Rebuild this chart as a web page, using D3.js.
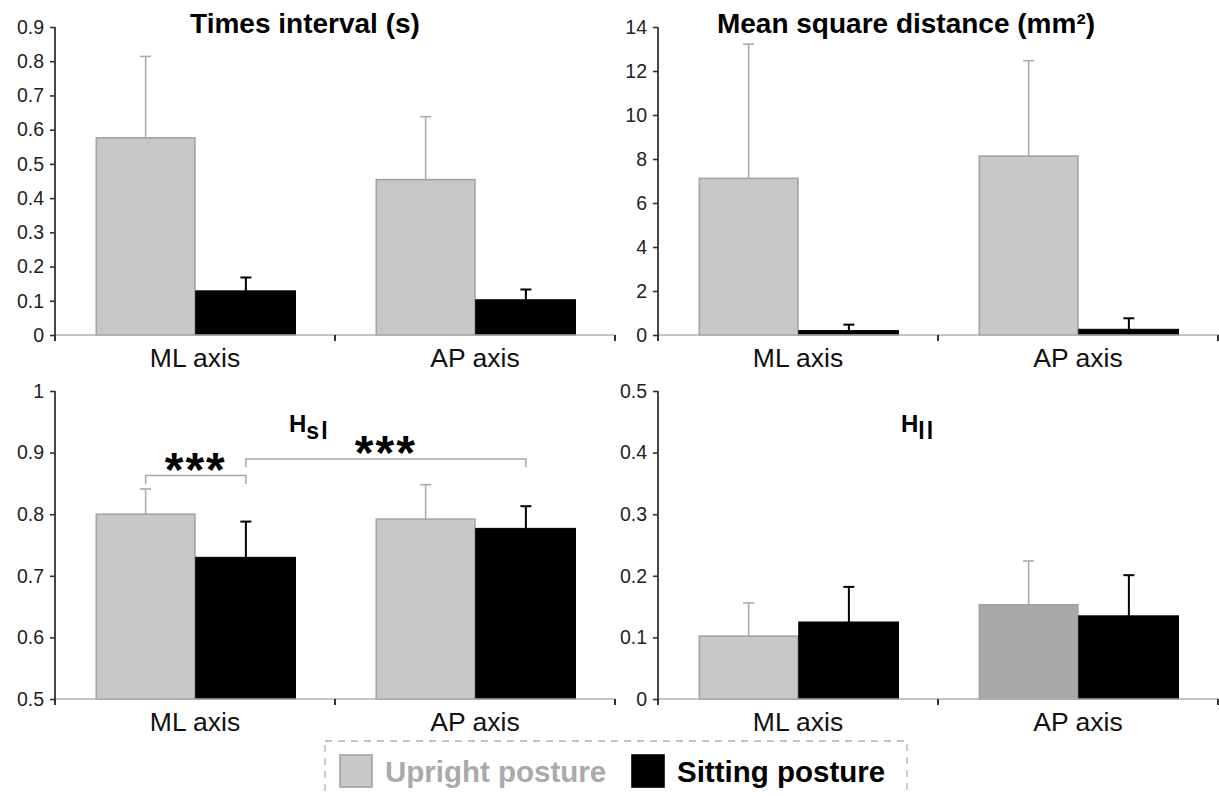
<!DOCTYPE html>
<html>
<head>
<meta charset="utf-8">
<script src="https://cdn.jsdelivr.net/npm/d3@7"></script>
<style>
  html, body { margin: 0; padding: 0; background: #fff; }
  svg { display: block; font-family: "Liberation Sans", Arial, sans-serif; }
</style>
</head>
<body>
<svg id="chart" width="1219" height="796"></svg>
<script>
// ---------- data ----------
const categories = ["ML axis", "AP axis"];
const series = ["Upright posture", "Sitting posture"];

// Times interval (s)
const timeUpright = [0.576, 0.454];
const timeUprightSD = [0.238, 0.184];
const timeSitting = [0.129, 0.103];
const timeSittingSD = [0.039, 0.030];
const timeTicks = [0, 0.1, 0.2, 0.3, 0.4, 0.5, 0.6, 0.7, 0.8, 0.9];

// Mean square distance (mm²)
const msdUpright = [7.12, 8.13];
const msdUprightSD = [6.10, 4.34];
const msdSitting = [0.20, 0.26];
const msdSittingSD = [0.27, 0.50];
const msdTicks = [0, 2, 4, 6, 8, 10, 12, 14];

// H_sl
const hslUpright = [0.800, 0.792];
const hslUprightSD = [0.041, 0.056];
const hslSitting = [0.730, 0.777];
const hslSittingSD = [0.058, 0.036];
const hslTicks = [0.5, 0.6, 0.7, 0.8, 0.9, 1];

// H_ll
const hllUpright = [0.102, 0.153];
const hllUprightSD = [0.054, 0.071];
const hllSitting = [0.125, 0.135];
const hllSittingSD = [0.057, 0.066];
const hllTicks = [0, 0.1, 0.2, 0.3, 0.4, 0.5];

// significance brackets in H_sl panel: [from (category, series), to (category, series)]
const hslBrackets = [
  { from: [0, 0], to: [0, 1], level: 0.8627, drop: 0.0135, label: "***" },
  { from: [0, 1], to: [1, 1], level: 0.8897, drop: 0.0135, label: "***" }
];

// ---------- styles / layout ----------
const GREY = "#c8c8c8", GREY_STROKE = "#a3a3a3", GREY_ERR = "#ababab";
const DARK_GREY = "#a9a9a9";
const BLACK = "#000000";

const svg = d3.select("#chart");
const FONT = "'Liberation Sans', Arial, sans-serif";

const panels = [
  { title: "Times interval (s)", up: timeUpright, upSD: timeUprightSD, sit: timeSitting, sitSD: timeSittingSD,
    ticks: timeTicks, domain: [0, 0.9], left: 55, top: 27, bottom: 335, titleX: 305, titleY: 33 },
  { title: "Mean square distance (mm²)", up: msdUpright, upSD: msdUprightSD, sit: msdSitting, sitSD: msdSittingSD,
    ticks: msdTicks, domain: [0, 14], left: 658, top: 27, bottom: 335, titleX: 906, titleY: 33 },
  { sub: ["H", "sl"], up: hslUpright, upSD: hslUprightSD, sit: hslSitting, sitSD: hslSittingSD,
    ticks: hslTicks, domain: [0.5, 1], left: 55, top: 391, bottom: 699, titleX: 289, titleY: 432, brackets: hslBrackets },
  { sub: ["H", "ll"], up: hllUpright, upSD: hllUprightSD, sit: hllSitting, sitSD: hllSittingSD,
    ticks: hllTicks, domain: [0, 0.5], left: 658, top: 391, bottom: 699, titleX: 901, titleY: 432,
    upFill: [GREY, DARK_GREY] }
];
const PANEL_W = 560;

const fmt = d => String(+d.toFixed(2));

panels.forEach(p => {
  const g = svg.append("g");
  const y = d3.scaleLinear().domain(p.domain).range([p.bottom, p.top]);
  const xCat = d3.scaleBand().domain(categories).range([p.left, p.left + PANEL_W]).padding(0);
  const xSer = d3.scaleBand().domain(series).range([40.5, 241]).padding(0);

  const rows = [];
  categories.forEach((c, i) => {
    rows.push({ c, s: series[0], v: p.up[i], sd: p.upSD[i], i });
    rows.push({ c, s: series[1], v: p.sit[i], sd: p.sitSD[i], i });
  });

  // error bars (drawn first, bars cover the lower part)
  rows.forEach(r => {
    const cx = xCat(r.c) + xSer(r.s) + xSer.bandwidth() / 2;
    const isUp = r.s === series[0];
    const col = isUp ? GREY_ERR : BLACK;
    const w = isUp ? 1.6 : 2;
    g.append("line").attr("x1", cx).attr("x2", cx)
      .attr("y1", y(r.v)).attr("y2", y(r.v + r.sd))
      .attr("stroke", col).attr("stroke-width", w);
    g.append("line").attr("x1", cx - 5.5).attr("x2", cx + 5.5)
      .attr("y1", y(r.v + r.sd)).attr("y2", y(r.v + r.sd))
      .attr("stroke", col).attr("stroke-width", w);
  });

  rows.forEach(r => {
    const isUp = r.s === series[0];
    const fill = isUp ? (p.upFill ? p.upFill[r.i] : GREY) : BLACK;
    g.append("rect")
      .attr("x", xCat(r.c) + xSer(r.s) + (isUp ? 0.8 : 0))
      .attr("y", y(r.v))
      .attr("width", xSer.bandwidth() - (isUp ? 1.6 : 0.5))
      .attr("height", y(p.domain[0]) - y(r.v))
      .attr("fill", fill)
      .attr("stroke", isUp ? GREY_STROKE : BLACK)
      .attr("stroke-width", isUp ? 1.6 : 1);
  });

  // x axis line
  g.append("line").attr("x1", p.left).attr("x2", p.left + PANEL_W)
    .attr("y1", p.bottom).attr("y2", p.bottom)
    .attr("stroke", "#b0b0b0").attr("stroke-width", 1.6);
  [0, 1, 2].forEach(k => {
    const bx = p.left + k * xCat.step();
    g.append("line").attr("x1", bx).attr("x2", bx)
      .attr("y1", p.bottom).attr("y2", p.bottom + 6)
      .attr("stroke", "#333").attr("stroke-width", 2);
  });
  categories.forEach(c => {
    g.append("text").attr("x", xCat(c) + xCat.bandwidth() / 2).attr("y", p.bottom + 32)
      .attr("text-anchor", "middle").attr("font-size", 26.5).attr("fill", "#111")
      .attr("font-family", FONT).text(c);
  });

  // y axis
  const ay = g.append("g").attr("transform", `translate(${p.left},0)`)
    .call(d3.axisLeft(y).tickValues(p.ticks).tickFormat(fmt).tickSize(5).tickSizeOuter(0).tickPadding(6));
  ay.select(".domain").attr("stroke", "#333").attr("stroke-width", 1.8)
    .attr("d", `M0,${p.top}V${p.bottom + 5}`);
  ay.selectAll(".tick line").attr("stroke", "#333").attr("stroke-width", 1.6);
  ay.selectAll(".tick text").attr("font-size", 19.5).attr("fill", "#222").attr("font-family", FONT);

  // title
  if (p.title) {
    g.append("text").attr("x", p.titleX).attr("y", p.titleY).attr("text-anchor", "middle")
      .attr("font-size", 28).attr("font-weight", "bold").attr("font-family", FONT).attr("fill", "#000")
      .text(p.title);
  } else {
    const t = g.append("text").attr("x", p.titleX).attr("y", p.titleY)
      .attr("font-weight", "bold").attr("font-family", FONT).attr("fill", "#000");
    t.append("tspan").attr("font-size", 24).text(p.sub[0]);
    t.append("tspan").attr("font-size", 23).attr("dy", 7).attr("letter-spacing", 2).text(p.sub[1]);
  }

  // significance brackets
  if (p.brackets) {
    p.brackets.forEach(b => {
      const x1 = xCat(categories[b.from[0]]) + xSer(series[b.from[1]]) + xSer.bandwidth() / 2;
      const x2 = xCat(categories[b.to[0]]) + xSer(series[b.to[1]]) + xSer.bandwidth() / 2;
      const yl = y(b.level), yd = y(b.level - b.drop);
      g.append("path").attr("d", `M${x1},${yd}V${yl}H${x2}V${yd}`)
        .attr("fill", "none").attr("stroke", "#a8a8a8").attr("stroke-width", 1.5);
      g.append("text").attr("x", (x1 + x2) / 2).attr("y", yl + 10)
        .attr("text-anchor", "middle").attr("font-size", 48).attr("font-weight", "bold")
        .attr("letter-spacing", 2).attr("font-family", FONT).attr("fill", "#000").text(b.label);
    });
  }
});

// ---------- legend ----------
const lg = svg.append("g");
lg.append("rect").attr("x", 325).attr("y", 741).attr("width", 582).attr("height", 80)
  .attr("fill", "none").attr("stroke", "#b0b0b0").attr("stroke-width", 1.3).attr("stroke-dasharray", "7,6");
const legendItems = [
  { name: series[0], fill: GREY, stroke: GREY_STROKE, text: "#aaaaaa", x: 340 },
  { name: series[1], fill: BLACK, stroke: BLACK, text: "#000", x: 632 }
];
legendItems.forEach(it => {
  lg.append("rect").attr("x", it.x).attr("y", 755).attr("width", 32).attr("height", 32)
    .attr("fill", it.fill).attr("stroke", it.stroke).attr("stroke-width", 1.6);
  lg.append("text").attr("x", it.x + 45).attr("y", 782)
    .attr("font-size", 29.5).attr("font-weight", "bold").attr("font-family", FONT).attr("fill", it.text)
    .text(it.name);
});
</script>
</body>
</html>
